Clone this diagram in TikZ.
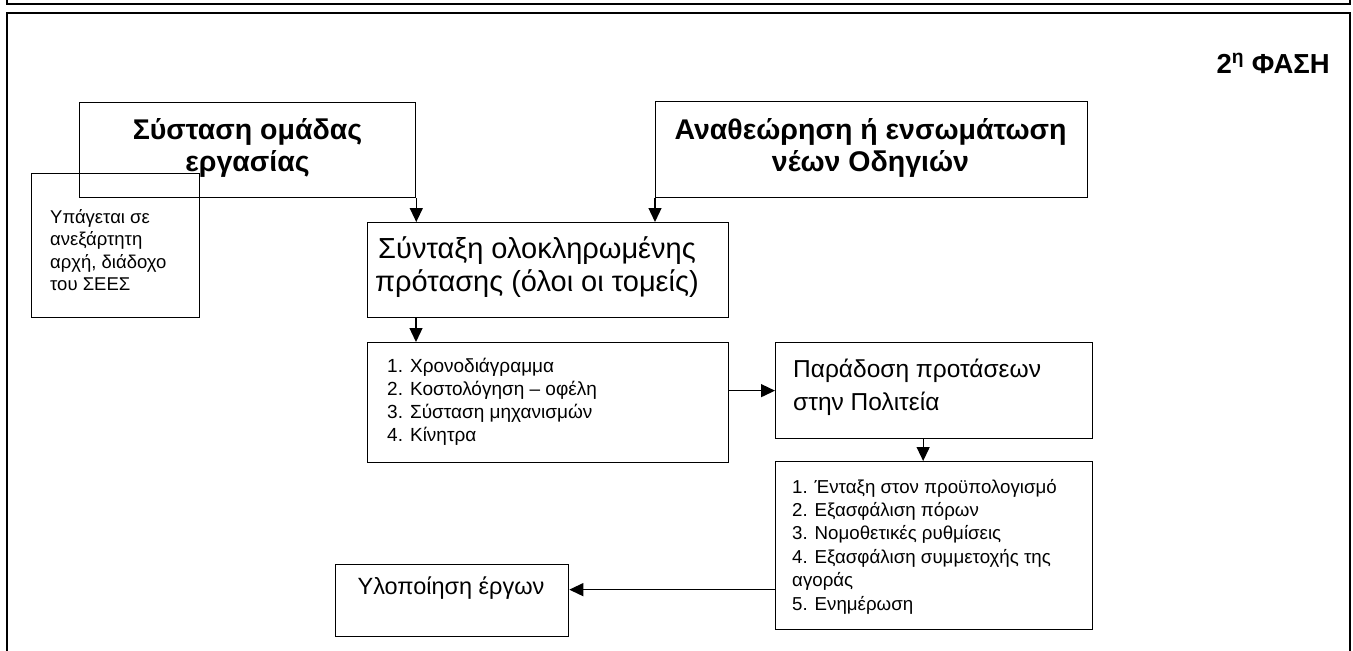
\documentclass[tikz,border=0pt]{standalone}
\usepackage{fontspec}
\setmainfont{Liberation Sans}
\usetikzlibrary{arrows.meta,calc}
\newcommand\mylinesC[1]{\vtop{\halign{\hfil##\hfil\cr#1\crcr}}}
\newcommand\mylinesL[1]{\vtop{\halign{##\hfil\cr#1\crcr}}}
\tikzset{
  box/.style={draw,line width=1.3pt,inner sep=0pt,anchor=north west},
  frame/.style={line width=2pt},
  arr/.style={line width=1.3pt,-{Triangle[length=14pt,width=13pt]}},
  txt/.style={inner sep=0pt},
  boldbig/.style={txt,anchor=base,font=\fontsize{28.5}{32}\selectfont\bfseries},
  dtxt/.style={txt,anchor=base,font=\fontsize{29}{33.5}\selectfont},
  ftxt/.style={txt,anchor=base west,font=\fontsize{24.5}{33.5}\selectfont},
  htxt/.style={txt,anchor=base,font=\fontsize{23.5}{28}\selectfont},
  etxt/.style={txt,anchor=base west,font=\fontsize{19}{23}\selectfont},
  gtxt/.style={txt,anchor=base west,font=\fontsize{18.7}{23.4}\selectfont},
  btxt/.style={txt,anchor=base west,font=\fontsize{18.5}{22.5}\selectfont},
}
\begin{document}
\begin{tikzpicture}[x=1pt,y=-1pt]
\useasboundingbox (0,0) rectangle (1353,651);
% frames
\draw[frame] (7,-2) -- (7,4) -- (1350,4) -- (1350,-2);
\draw[frame] (7,660) -- (7,13) -- (1350,13) -- (1350,660);
\node[txt,font=\fontsize{27.5}{32}\selectfont\bfseries,anchor=base east] (title) at (1330,73) {2\textsuperscript{η} ΦΑΣΗ};
% boxes
\node[box,minimum width=336pt,minimum height=95pt] (A) at (79,102) {};
\node[boldbig] (At) at (247.5,139) {\mylinesC{Σύσταση ομάδας\cr εργασίας}};
\node[box,minimum width=168pt,minimum height=144pt] (B) at (31,173) {};
\node[btxt] (Bt) at (50,223) {\mylinesL{Υπάγεται σε\cr ανεξάρτητη\cr αρχή, διάδοχο\cr του ΣΕΕΣ}};
\node[box,minimum width=432pt,minimum height=96pt] (C) at (655,101) {};
\node[boldbig] (Ct) at (870.5,139) {\mylinesC{Αναθεώρηση ή ενσωμάτωση\cr νέων Οδηγιών}};
\node[box,minimum width=361pt,minimum height=95pt] (D) at (367,222) {};
\node[dtxt] (Dt) at (537,258) {\mylinesC{Σύνταξη ολοκληρωμένης\cr πρότασης (όλοι οι τομείς)}};
\node[box,minimum width=361pt,minimum height=120pt] (E) at (367,342) {};
\node[etxt] (Et) at (387,372) {\mylinesL{1. Χρονοδιάγραμμα\cr 2. Κοστολόγηση – οφέλη\cr 3. Σύσταση μηχανισμών\cr 4. Κίνητρα}};
\node[box,minimum width=317pt,minimum height=96pt] (F) at (775,342) {};
\node[ftxt] (Ft) at (793,377) {\mylinesL{Παράδοση προτάσεων\cr στην Πολιτεία}};
\node[box,minimum width=317pt,minimum height=168pt] (G) at (775,461) {};
\node[gtxt] (Gt) at (792,493) {\mylinesL{1. Ένταξη στον προϋπολογισμό\cr 2. Εξασφάλιση πόρων\cr 3. Νομοθετικές ρυθμίσεις\cr 4. Εξασφάλιση συμμετοχής της\cr αγοράς\cr 5. Ενημέρωση}};
\node[box,minimum width=233pt,minimum height=72pt] (H) at (335,564) {};
\node[htxt] (Ht) at (451,594) {Υλοποίηση έργων};
% connectors
\draw[arr] (A.south east) -- (A.south east |- D.north);
\draw[arr] (C.south west) -- (C.south west |- D.north);
\draw[arr] ([xshift=49pt]D.south west) -- ([xshift=49pt]E.north west);
\coordinate (ef) at (F.west);
\draw[arr] (E.east |- ef) -- (ef);
\draw[arr] ([xshift=-11pt]F.south) -- ([xshift=-11pt]G.north);
\coordinate (gh) at ([yshift=11pt]H.east);
\draw[arr] (gh -| G.west) -- (gh);
\end{tikzpicture}
\end{document}
